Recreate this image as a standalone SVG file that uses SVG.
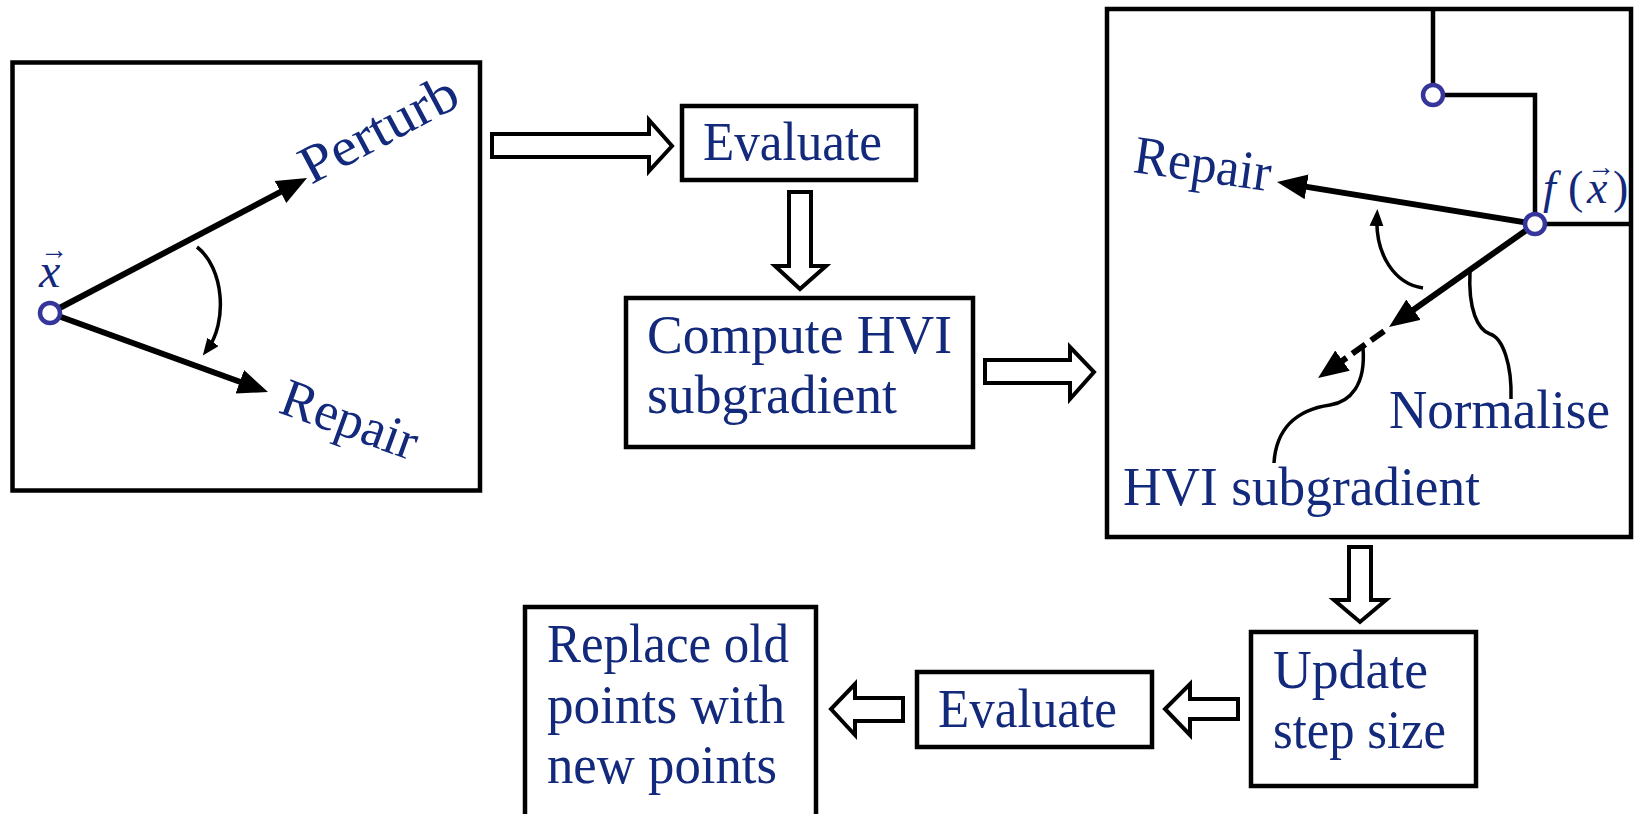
<svg xmlns="http://www.w3.org/2000/svg" width="1636" height="814" viewBox="0 0 1636 814">
<style>
.box{fill:#fff;stroke:#000;stroke-width:4.5}
.lbl{font-family:"Liberation Serif","Times New Roman",serif;font-size:54px;fill:#13297b}
.math{font-family:"Liberation Serif","Times New Roman",serif;font-style:italic;fill:#13297b}
.vec{font-style:normal;font-size:28px}
.hollow{fill:#fff;stroke:#000;stroke-width:4;stroke-linejoin:miter}
.thick{fill:none;stroke:#000;stroke-width:6}
.thin{fill:none;stroke:#000;stroke-width:3.5}
.wire{fill:none;stroke:#000;stroke-width:4.5;stroke-linejoin:miter}
.pt{fill:#fff;stroke:#35359c;stroke-width:4.5}
</style>
<defs>
<marker id="bigHead" markerUnits="userSpaceOnUse" markerWidth="32" markerHeight="28" refX="20" refY="12.5" orient="auto">
<path d="M0,0 L30,12.5 L0,25 z" fill="#000"/>
</marker>
<marker id="smallHead" markerUnits="userSpaceOnUse" markerWidth="20" markerHeight="16" refX="10" refY="7" orient="auto">
<path d="M0,0 L17,7 L0,14 z" fill="#000"/>
</marker>
</defs>

<g id="node-start">
<rect class="box" x="12.5" y="62.5" width="467.5" height="428"/>
<line class="thick" x1="50" y1="313" x2="298.2" y2="182.7" marker-end="url(#bigHead)"/>
<line class="thick" x1="50" y1="313" x2="258.6" y2="388.6" marker-end="url(#bigHead)"/>
<path class="thin" d="M197,247 C224,268 228,322 207,350" marker-end="url(#smallHead)"/>
<circle class="pt" cx="50" cy="313" r="10"/>
<text class="math" font-size="48"><tspan x="39" y="287">x</tspan><tspan class="vec" x="40" y="259">→</tspan></text>
<text class="lbl" transform="translate(311,185) rotate(-28)" font-size="56" textLength="172" lengthAdjust="spacingAndGlyphs">Perturb</text>
<text class="lbl" transform="translate(277,412) rotate(20)" textLength="142" lengthAdjust="spacingAndGlyphs">Repair</text>
</g>

<g id="node-evaluate1">
<rect class="box" x="682" y="106" width="234" height="74"/>
<text class="lbl" x="703" y="160" textLength="179" lengthAdjust="spacingAndGlyphs">Evaluate</text>
</g>

<g id="node-compute">
<rect class="box" x="626" y="298" width="347" height="149"/>
<text class="lbl" x="647" y="353" textLength="305" lengthAdjust="spacingAndGlyphs">Compute HVI</text>
<text class="lbl" x="647" y="413" textLength="250" lengthAdjust="spacingAndGlyphs">subgradient</text>
</g>

<g id="node-gradient">
<rect class="box" x="1107" y="9" width="524" height="528"/>
<path class="wire" d="M1433,9 V95 H1535 V224 H1631"/>
<line class="thick" x1="1535" y1="224" x2="1286.9" y2="183.6" marker-end="url(#bigHead)"/>
<line class="thick" x1="1535" y1="224" x2="1397.2" y2="321.2" marker-end="url(#bigHead)"/>
<line class="thick" x1="1384.1" y1="331.1" x2="1326.2" y2="372.2" stroke-dasharray="16,7" marker-end="url(#bigHead)"/>
<path class="thin" d="M1423,288 C1395,284 1375,255 1377,216" marker-end="url(#smallHead)"/>
<path class="thin" d="M1470,271 C1468,310 1478,330 1490,334 C1503,338 1512,365 1511,399"/>
<path class="thin" d="M1363,348 C1366,385 1350,402 1330,405 C1295,410 1276,430 1274,463"/>
<circle class="pt" cx="1433" cy="95" r="10"/>
<circle class="pt" cx="1535" cy="224" r="10"/>
<text class="lbl" transform="translate(1132,172) rotate(8)" font-size="52" textLength="138" lengthAdjust="spacingAndGlyphs">Repair</text>
<text class="math" font-size="46"><tspan x="1543" y="203">f</tspan><tspan x="1568" y="203" font-style="normal">(</tspan><tspan x="1587" y="203">x</tspan><tspan x="1613" y="203" font-style="normal">)</tspan><tspan class="vec" x="1587" y="176">→</tspan></text>
<text class="lbl" x="1389" y="428" textLength="221" lengthAdjust="spacingAndGlyphs">Normalise</text>
<text class="lbl" x="1123" y="505" textLength="357" lengthAdjust="spacingAndGlyphs">HVI subgradient</text>
</g>

<g id="node-update">
<rect class="box" x="1251" y="632" width="225" height="154"/>
<text class="lbl" x="1273" y="688" textLength="155" lengthAdjust="spacingAndGlyphs">Update</text>
<text class="lbl" x="1273" y="748" textLength="173" lengthAdjust="spacingAndGlyphs">step size</text>
</g>

<g id="node-evaluate2">
<rect class="box" x="917" y="672" width="235" height="75"/>
<text class="lbl" x="938" y="727" textLength="179" lengthAdjust="spacingAndGlyphs">Evaluate</text>
</g>

<g id="node-replace">
<rect class="box" x="525" y="607" width="291" height="220"/>
<text class="lbl" x="547" y="662" textLength="242" lengthAdjust="spacingAndGlyphs">Replace old</text>
<text class="lbl" x="547" y="723" textLength="238" lengthAdjust="spacingAndGlyphs">points with</text>
<text class="lbl" x="547" y="783" textLength="230" lengthAdjust="spacingAndGlyphs">new points</text>
</g>

<g id="connectors">
<polygon class="hollow" points="492,134 649,134 649,120 672,146 649,171 649,157 492,157"/>
<polygon class="hollow" points="789,192 811,192 811,266 826,266 800,289 775,266 789,266"/>
<polygon class="hollow" points="985,360 1070,360 1070,347 1094,372 1070,399 1070,383 985,383"/>
<polygon class="hollow" points="1349,547 1371,547 1371,600 1386,600 1360,622 1334,600 1349,600"/>
<polygon class="hollow" points="1238,699 1190,699 1190,684 1165,709 1190,735 1190,719 1238,719"/>
<polygon class="hollow" points="903,698 855,698 855,684 831,709 855,735 855,721 903,721"/>
</g>
</svg>
